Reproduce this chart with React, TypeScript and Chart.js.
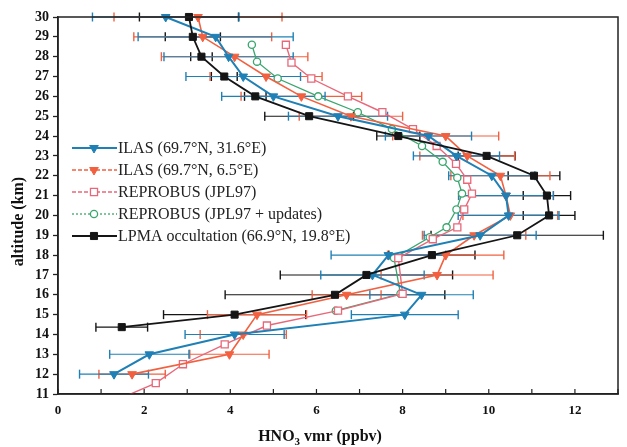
import React, { useEffect, useRef } from 'react';
import { Chart, registerables } from 'chart.js';

Chart.register(...registerables);

// ILAS (69.7°N, 31.6°E)
const ilasAlt = [30, 29, 28, 27, 26, 25, 24, 23, 22, 21, 20, 19, 18, 17, 16, 15, 14, 13, 12];
const ilasEastVmr = [2.5, 3.66, 3.96, 4.3, 5.0, 6.5, 8.6, 9.25, 10.07, 10.4, 10.46, 9.8, 7.67, 7.3, 8.44, 8.05, 4.1, 2.12, 1.3];
const ilasEastErr = [1.7, 1.8, 1.5, 1.33, 1.2, 1.15, 1.0, 1.0, 1.0, 1.1, 1.17, 1.3, 1.33, 1.2, 1.2, 1.24, 1.15, 0.92, 0.8];
// ILAS (69.7°N, 6.5°E)
const ilasWestVmr = [3.25, 3.36, 4.1, 4.83, 5.65, 6.8, 9.0, 9.5, 10.27, 10.4, 10.5, 9.66, 9.0, 8.8, 6.7, 4.62, 4.3, 3.98, 1.72];
const ilasWestErr = [1.95, 1.6, 1.7, 1.3, 1.4, 1.2, 1.23, 1.1, 1.15, 1.1, 1.1, 1.2, 1.35, 1.3, 0.8, 1.15, 1.0, 0.92, 0.77];
// REPROBUS (JPL97)
const repAlt = [28.6, 27.7, 26.9, 26.0, 25.2, 24.35, 23.5, 22.6, 21.8, 21.1, 20.3, 19.4, 18.8, 17.85, 16.05, 15.2, 14.45, 13.5, 12.5, 11.55, 10.5];
const repVmr = [5.29, 5.42, 5.88, 6.73, 7.53, 8.24, 8.79, 9.24, 9.5, 9.61, 9.43, 9.27, 8.7, 7.9, 8.0, 6.5, 4.85, 3.87, 2.9, 2.27, 1.15];
// REPROBUS (JPL97 + updates)
const updAlt = [28.6, 27.75, 26.9, 26.0, 25.2, 24.35, 23.5, 22.7, 21.9, 21.1, 20.3, 19.4, 18.9, 17.85, 16.05, 15.2];
const updVmr = [4.5, 4.62, 5.1, 6.04, 6.96, 7.75, 8.45, 8.93, 9.27, 9.38, 9.25, 9.02, 8.63, 7.8, 7.95, 6.45];
// LPMA occultation (66.9°N, 19.8°E)
const lpmaAlt = [30, 29, 28, 27, 26, 25, 24, 23, 22, 21, 20, 19, 18, 17, 16, 15, 14.37];
const lpmaVmr = [3.04, 3.13, 3.33, 3.86, 4.58, 5.83, 7.9, 9.95, 11.05, 11.35, 11.4, 10.66, 8.68, 7.16, 6.43, 4.1, 1.48];
const lpmaErr = [1.15, 0.64, 0.25, 0.3, 0.25, 1.03, 0.5, 0.66, 0.6, 0.55, 0.6, 2.0, 1.0, 2.0, 2.55, 1.65, 0.6];

const legendLabels = [
  'ILAS (69.7°N, 31.6°E)',
  'ILAS (69.7°N, 6.5°E)',
  'REPROBUS (JPL97)',
  'REPROBUS (JPL97 + updates)',
  'LPMA occultation (66.9°N, 19.8°E)',
];
const xLabelSteps = [0, 2, 4, 6, 8, 10, 12];

const BLUE = '#1f80b6';
const RED = '#f2603f';
const PINK = '#e8687a';
const GREEN = '#3aa66e';
const BLACK = '#151515';
const SERIF = '"Liberation Serif", "Times New Roman", serif';

function pts(xs: number[], ys: number[]) {
  return ys.map((y, i) => ({ x: xs[i], y }));
}

function errSets(vals: number[], errs: number[], alts: number[], color: string) {
  return vals.map((v, i) => ({
    label: '_err',
    data: [
      { x: v - errs[i], y: alts[i] },
      { x: v + errs[i], y: alts[i] },
    ],
    showLine: true,
    borderColor: color,
    borderWidth: 1.1,
    pointStyle: 'line',
    pointRotation: 90,
    pointRadius: 4.5,
    pointBorderColor: color,
    pointBorderWidth: 1.4,
    order: 10,
    clip: { left: 5, right: 5, top: 6, bottom: 0 },
  }));
}

function drawMarker(ctx: CanvasRenderingContext2D, style: string, x: number, y: number, r: number, fill: string, stroke: string, lw: number) {
  ctx.beginPath();
  if (style === 'triangle') {
    ctx.moveTo(x, y + r);
    ctx.lineTo(x - r * 0.866, y - r * 0.5);
    ctx.lineTo(x + r * 0.866, y - r * 0.5);
    ctx.closePath();
  } else if (style === 'rect') {
    const s = r / Math.SQRT2;
    ctx.rect(x - s, y - s, 2 * s, 2 * s);
  } else {
    ctx.arc(x, y, r, 0, Math.PI * 2);
  }
  ctx.fillStyle = fill;
  ctx.fill();
  ctx.strokeStyle = stroke;
  ctx.lineWidth = lw;
  ctx.stroke();
}

const decorPlugin = {
  id: 'decor',
  afterDraw(chart: any) {
    const { ctx, chartArea: ca, scales } = chart;
    const xs = scales.x;
    ctx.save();
    // frame
    ctx.strokeStyle = '#222';
    ctx.lineWidth = 1.5;
    ctx.strokeRect(ca.left, ca.top, ca.right - ca.left, ca.bottom - ca.top);
    // inward x ticks
    ctx.lineWidth = 1.2;
    xs.ticks.forEach((t: any) => {
      const px = xs.getPixelForValue(t.value);
      ctx.beginPath();
      ctx.moveTo(px, ca.bottom);
      ctx.lineTo(px, ca.bottom - 5);
      ctx.stroke();
    });

    // legend
    const ds = chart.data.datasets;
    const lx0 = ca.left + 14;
    const lx1 = ca.left + 59;
    const mx = ca.left + 36;
    const tx = ca.left + 60;
    const rowY = [148, 170, 192, 214, 236];
    const dashes = [[], [4, 2], [4, 2], [2, 2], []];
    legendLabels.forEach((lab, i) => {
      const d = ds[i];
      const y = rowY[i];
      ctx.setLineDash(dashes[i]);
      ctx.strokeStyle = d.borderColor;
      ctx.lineWidth = d.borderWidth;
      ctx.beginPath();
      ctx.moveTo(lx0, y);
      ctx.lineTo(lx1, y);
      ctx.stroke();
      ctx.setLineDash([]);
      drawMarker(ctx, d.pointStyle, mx, y, d.pointRadius, d.pointBackgroundColor, d.borderColor, d.pointBorderWidth || 1);
      ctx.fillStyle = '#222';
      ctx.font = `16px ${SERIF}`;
      ctx.textAlign = 'left';
      ctx.textBaseline = 'middle';
      ctx.fillText(lab, tx, y + 1);
    });

    // x title: HNO3 vmr (ppbv)
    ctx.fillStyle = '#111';
    ctx.textBaseline = 'middle';
    ctx.textAlign = 'left';
    const big = `bold 16px ${SERIF}`;
    const small = `bold 11px ${SERIF}`;
    ctx.font = big;
    const w1 = ctx.measureText('HNO').width;
    const w3 = ctx.measureText(' vmr (ppbv)').width;
    ctx.font = small;
    const w2 = ctx.measureText('3').width;
    const total = w1 + w2 + w3;
    const cx = (ca.left + ca.right) / 2 - 18;
    const ty = 437;
    let sx = cx - total / 2;
    ctx.font = big;
    ctx.fillText('HNO', sx, ty);
    sx += w1;
    ctx.font = small;
    ctx.fillText('3', sx, ty + 5);
    sx += w2;
    ctx.font = big;
    ctx.fillText(' vmr (ppbv)', sx, ty);

    // y title
    ctx.save();
    ctx.translate(19, (ca.top + ca.bottom) / 2 + 16);
    ctx.rotate(-Math.PI / 2);
    ctx.textAlign = 'center';
    ctx.font = `bold 16px ${SERIF}`;
    ctx.fillText('altitude (km)', 0, 0);
    ctx.restore();

    ctx.restore();
  },
};

export default function App() {
  const ref = useRef<HTMLCanvasElement | null>(null);
  useEffect(() => {
    document.body.style.margin = '0';
    const canvas = ref.current;
    if (!canvas) return;
    const mainClip = { left: 6, right: 6, top: 8, bottom: 0 };
    const chart = new Chart(canvas, {
      type: 'scatter',
      data: {
        datasets: [
          {
            label: legendLabels[0],
            data: pts(ilasEastVmr, ilasAlt),
            showLine: true,
            borderColor: BLUE,
            backgroundColor: BLUE,
            borderWidth: 2,
            pointStyle: 'triangle',
            pointRotation: 180,
            pointRadius: 5,
            pointBackgroundColor: BLUE,
            pointBorderColor: BLUE,
            pointBorderWidth: 1,
            order: 1,
            clip: mainClip,
          },
          {
            label: legendLabels[1],
            data: pts(ilasWestVmr, ilasAlt),
            showLine: true,
            borderColor: RED,
            backgroundColor: RED,
            borderWidth: 1.6,
            pointStyle: 'triangle',
            pointRotation: 180,
            pointRadius: 5,
            pointBackgroundColor: RED,
            pointBorderColor: RED,
            pointBorderWidth: 1,
            order: 2,
            clip: mainClip,
          },
          {
            label: legendLabels[2],
            data: pts(repVmr, repAlt),
            showLine: true,
            borderColor: PINK,
            backgroundColor: '#ffffff',
            borderWidth: 1.4,
            pointStyle: 'rect',
            pointRadius: 5,
            pointBackgroundColor: '#ffffff',
            pointBorderColor: PINK,
            pointBorderWidth: 1.3,
            order: 3,
            clip: mainClip,
          },
          {
            label: legendLabels[3],
            data: pts(updVmr, updAlt),
            showLine: true,
            borderColor: GREEN,
            backgroundColor: '#ffffff',
            borderWidth: 1.3,
            pointStyle: 'circle',
            pointRadius: 3.6,
            pointBackgroundColor: '#ffffff',
            pointBorderColor: GREEN,
            pointBorderWidth: 1.3,
            order: 4,
            clip: mainClip,
          },
          {
            label: legendLabels[4],
            data: pts(lpmaVmr, lpmaAlt),
            showLine: true,
            borderColor: BLACK,
            backgroundColor: BLACK,
            borderWidth: 1.8,
            pointStyle: 'rect',
            pointRadius: 5,
            pointBackgroundColor: BLACK,
            pointBorderColor: BLACK,
            pointBorderWidth: 1,
            order: 0,
            clip: mainClip,
          },
          ...errSets(ilasEastVmr, ilasEastErr, ilasAlt, BLUE),
          ...errSets(ilasWestVmr, ilasWestErr, ilasAlt, RED),
          ...errSets(lpmaVmr, lpmaErr, lpmaAlt, BLACK),
        ] as any,
      },
      options: {
        animation: false,
        responsive: false,
        devicePixelRatio: 1,
        events: [],
        layout: { padding: { top: 17, right: 2, bottom: 0, left: 0 } },
        plugins: {
          legend: { display: false },
          tooltip: { enabled: false },
          title: { display: false },
        },
        scales: {
          x: {
            type: 'linear',
            min: 0,
            max: 13,
            ticks: {
              stepSize: 1,
              autoSkip: false,
              maxRotation: 0,
              padding: 9,
              color: '#111',
              font: { family: SERIF, size: 13, weight: 'bold' },
              callback: (v: any) => (xLabelSteps.includes(Number(v)) ? String(v) : ''),
            },
            grid: { drawOnChartArea: false, drawTicks: false },
            border: { display: true, color: '#222', width: 1.5 },
            afterFit: (s: any) => {
              s.height = 53;
            },
          },
          y: {
            type: 'linear',
            min: 11,
            max: 30,
            ticks: {
              stepSize: 1,
              autoSkip: false,
              padding: 4,
              color: '#111',
              font: { family: SERIF, size: 14, weight: 'bold' },
            },
            grid: { drawOnChartArea: false, drawTicks: true, tickLength: 5, color: '#222', tickWidth: 1.3 },
            border: { display: true, color: '#222', width: 1.5 },
            afterFit: (s: any) => {
              s.width = 58;
            },
          },
        },
      } as any,
      plugins: [decorPlugin],
    });
    return () => chart.destroy();
  }, []);
  return (
    <div style={{ width: 627, height: 447, background: '#ffffff' }}>
      <canvas ref={ref} width={627} height={447} />
    </div>
  );
}
